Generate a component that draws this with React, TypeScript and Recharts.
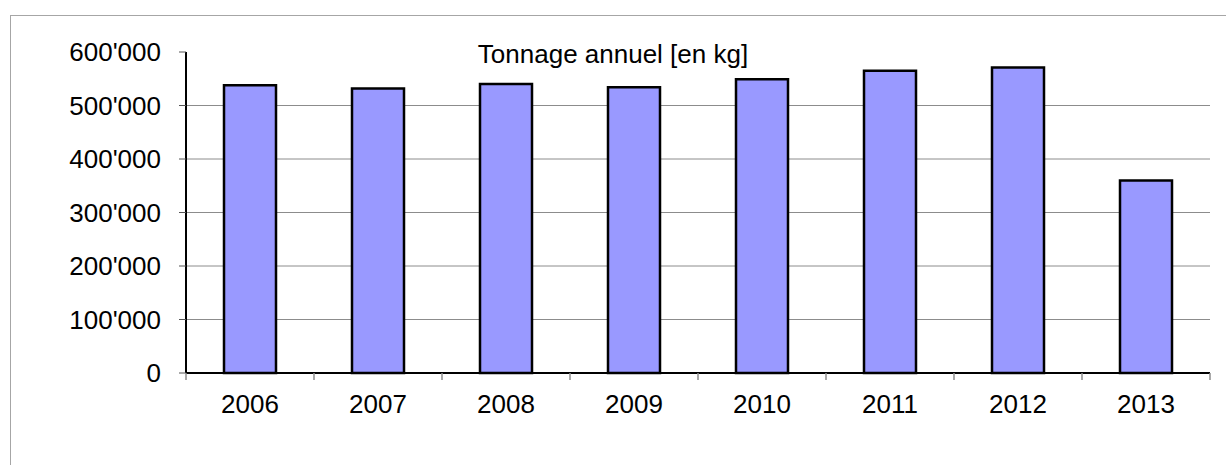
import { Bar, BarChart, CartesianGrid, XAxis, YAxis } from 'recharts'

const years = ['2006', '2007', '2008', '2009', '2010', '2011', '2012', '2013']
const tonnage = [538000, 532000, 540000, 534000, 549000, 565000, 571000, 360000]
const yTicks = [0, 100000, 200000, 300000, 400000, 500000, 600000]
const gridValues = [100000, 200000, 300000, 400000, 500000]

const W = 1226
const H = 465
const M = { top: 52, right: 16, bottom: 0, left: 0 }
const Y_AXIS_W = 186
const X_AXIS_H = 92
const HALF_BAND = (W - M.left - M.right - Y_AXIS_W) / years.length / 2
const FONT = '"Liberation Sans", Arial, sans-serif'

const data = years.map((year, i) => ({ year, value: tonnage[i] }))

function fmt(v: number) {
  return String(v).replace(/\B(?=(\d{3})+(?!\d))/g, "'")
}

function YearTick(props: any) {
  const { x, y, payload, index } = props
  const last = index === years.length - 1
  return (
    <g>
      <line x1={x - HALF_BAND} y1={y} x2={x - HALF_BAND} y2={y + 7} stroke="#8c8c8c" strokeWidth={1.5} />
      {last && (
        <line x1={x + HALF_BAND} y1={y} x2={x + HALF_BAND} y2={y + 7} stroke="#8c8c8c" strokeWidth={1.5} />
      )}
      <text x={x} y={y + 40} textAnchor="middle" fill="#000" fontSize={26} fontFamily={FONT}>
        {payload.value}
      </text>
    </g>
  )
}

export default function App() {
  return (
    <div style={{ position: 'absolute', left: 0, top: 0, width: W, height: H, background: '#fff', overflow: 'hidden' }}>
      <div
        style={{
          position: 'absolute',
          left: 10,
          top: 15,
          width: W,
          height: H,
          borderLeft: '1.5px solid #a6a6a6',
          borderTop: '1.5px solid #a6a6a6',
        }}
      />
      <BarChart width={W} height={H} data={data} margin={M}>
        <CartesianGrid
          vertical={false}
          stroke="#8c8c8c"
          horizontalCoordinatesGenerator={({ offset }: any) =>
            gridValues.map((v) => offset.top + offset.height * (1 - v / 600000))
          }
        />
        <XAxis
          dataKey="year"
          height={X_AXIS_H}
          axisLine={{ stroke: '#000', strokeWidth: 2 }}
          tickLine={false}
          tickSize={0}
          tickMargin={0}
          tick={<YearTick />}
          interval={0}
        />
        <YAxis
          width={Y_AXIS_W}
          domain={[0, 600000]}
          ticks={yTicks}
          tickFormatter={fmt}
          axisLine={{ stroke: '#000', strokeWidth: 2 }}
          tickLine={{ stroke: '#555' }}
          tickSize={7}
          tickMargin={18}
          tick={{ fill: '#000', fontSize: 26, fontFamily: FONT }}
        />
        <Bar
          dataKey="value"
          fill="#9999ff"
          stroke="#000"
          strokeWidth={2.5}
          barSize={52}
          isAnimationActive={false}
        />
      </BarChart>
      <div
        style={{
          position: 'absolute',
          left: 0,
          top: 39,
          width: W,
          textAlign: 'center',
          fontFamily: FONT,
          fontSize: 26,
          lineHeight: '30px',
          color: '#000',
        }}
      >
        Tonnage annuel [en kg]
      </div>
    </div>
  )
}
